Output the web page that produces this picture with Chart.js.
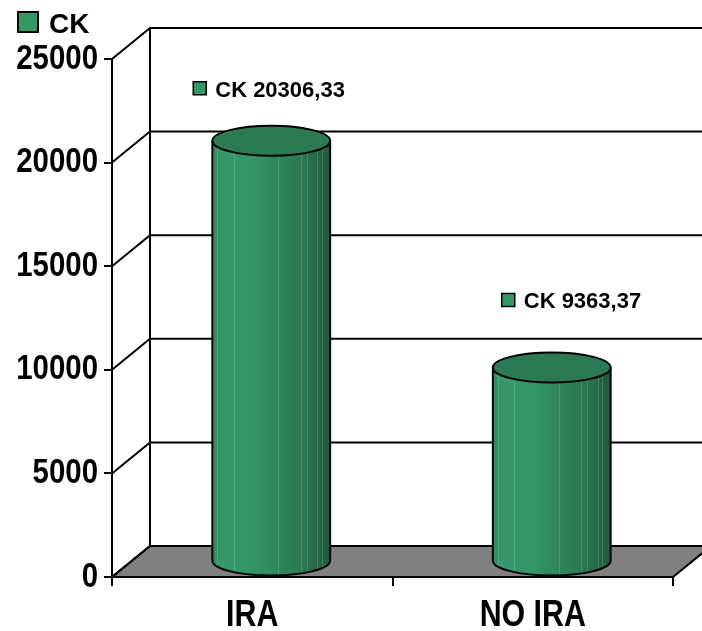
<!DOCTYPE html>
<html><head><meta charset="utf-8">
<script src="https://cdn.jsdelivr.net/npm/chart.js@4.4.0/dist/chart.umd.min.js"></script>
<style>html,body{margin:0;padding:0;background:#fff;} canvas{display:block;}</style>
</head><body>
<canvas id="c" width="702" height="631"></canvas>
<script>
// ---- data ----
const categories = ['IRA', 'NO IRA'];
const seriesName = 'CK';
const ckValues = [20306.33, 9363.37];
const valueLabels = ['20306,33', '9363,37'];
const yTicks = [0, 5000, 10000, 15000, 20000, 25000];

// ---- style ----
const DEPTH_X = 38, DEPTH_Y = -31, RY = 15;
const SANS = "'Liberation Sans', Arial, sans-serif";
const GREEN = '#339966';
const labelOffsets = [[-78, -44], [-50, -59]];
const LABEL_SQUEEZE = {x: 0.82, y: 0.84};   // condensed look of axis text

const plugin3d = {
  id: 'three-d',
  beforeDraw(chart) {
    Object.keys(LABEL_SQUEEZE).forEach(id => {
      const s = chart.scales[id];
      if (!s || s.__squeezed) return;
      s.__squeezed = true;
      const sx = LABEL_SQUEEZE[id];
      const orig = s.drawLabels;
      s.drawLabels = function (area) {
        const ctx = this.ctx;
        const of = CanvasRenderingContext2D.prototype.fillText;
        ctx.fillText = function (t, x, y, m) {
          this.save(); this.translate(x, y); this.scale(sx, 1);
          if (m === undefined) of.call(this, t, 0, 0); else of.call(this, t, 0, 0, m / sx);
          this.restore();
        };
        try { orig.call(this, area); } finally { delete ctx.fillText; }
      };
    });
  },
  beforeDatasetsDraw(chart) {
    const {ctx, chartArea: a, scales: {y}} = chart;
    const y0 = y.getPixelForValue(0);
    const yTop = y.getPixelForValue(yTicks[yTicks.length - 1]);
    ctx.save();
    ctx.lineWidth = 2; ctx.strokeStyle = '#000'; ctx.lineJoin = 'miter';
    // floor
    ctx.beginPath();
    ctx.moveTo(a.left, y0); ctx.lineTo(a.right, y0);
    ctx.lineTo(a.right + DEPTH_X, y0 + DEPTH_Y); ctx.lineTo(a.left + DEPTH_X, y0 + DEPTH_Y);
    ctx.closePath();
    ctx.fillStyle = '#808080'; ctx.fill(); ctx.stroke();
    // side wall & back wall grid lines
    yTicks.forEach(v => {
      const py = y.getPixelForValue(v);
      ctx.beginPath();
      ctx.moveTo(a.left, py); ctx.lineTo(a.left + DEPTH_X, py + DEPTH_Y);
      ctx.lineTo(a.right + DEPTH_X + 4, py + DEPTH_Y);
      ctx.stroke();
    });
    // back-wall left edge
    ctx.beginPath();
    ctx.moveTo(a.left + DEPTH_X, yTop + DEPTH_Y); ctx.lineTo(a.left + DEPTH_X, y0 + DEPTH_Y);
    ctx.stroke();
    // front vertical axis
    ctx.beginPath(); ctx.moveTo(a.left, yTop); ctx.lineTo(a.left, y0); ctx.stroke();
    ctx.restore();
  },
  afterDatasetsDraw(chart) {
    const {ctx} = chart;
    const meta = chart.getDatasetMeta(0);
    meta.data.forEach((el, i) => {
      const cx = el.x + DEPTH_X / 2, rx = el.width / 2;
      const topY = el.y + DEPTH_Y / 2, botY = el.base + DEPTH_Y / 2;
      ctx.save();
      // body
      ctx.beginPath();
      ctx.moveTo(cx - rx, topY);
      ctx.lineTo(cx - rx, botY);
      ctx.ellipse(cx, botY, rx, RY, 0, Math.PI, 0, true);
      ctx.lineTo(cx + rx, topY);
      ctx.closePath();
      const g = ctx.createLinearGradient(cx - rx, 0, cx + rx, 0);
      g.addColorStop(0, '#2e8c60'); g.addColorStop(0.08, '#35996b');
      g.addColorStop(0.35, '#339468'); g.addColorStop(0.6, '#2e8459');
      g.addColorStop(0.8, '#29744f'); g.addColorStop(1, '#1f5a3c');
      ctx.fillStyle = g; ctx.fill();
      ctx.save(); ctx.clip();
      ctx.strokeStyle = 'rgba(255,255,255,0.16)'; ctx.lineWidth = 1;
      [0.04, 0.18, 0.56, 0.75, 0.8, 0.89, 0.93].forEach(f => {
        const sx = Math.round(cx - rx + f * 2 * rx) + 0.5;
        ctx.beginPath(); ctx.moveTo(sx, topY); ctx.lineTo(sx, botY + RY); ctx.stroke();
      });
      ctx.restore();
      ctx.lineWidth = 2; ctx.strokeStyle = '#000';
      ctx.beginPath();
      ctx.moveTo(cx - rx, topY); ctx.lineTo(cx - rx, botY);
      ctx.ellipse(cx, botY, rx, RY, 0, Math.PI, 0, true);
      ctx.lineTo(cx + rx, topY);
      ctx.stroke();
      // top
      ctx.beginPath(); ctx.ellipse(cx, topY, rx, RY, 0, 0, Math.PI * 2);
      ctx.fillStyle = '#2b7a54'; ctx.fill(); ctx.stroke();
      // data label
      const [ox, oy] = labelOffsets[i];
      const lx = cx + ox, ly = topY + oy;
      ctx.fillStyle = GREEN; ctx.lineWidth = 1.5;
      ctx.fillRect(lx, ly - 15, 13, 13); ctx.strokeRect(lx, ly - 15, 13, 13);
      ctx.fillStyle = '#000'; ctx.font = 'bold 22px ' + SANS;
      ctx.textBaseline = 'alphabetic'; ctx.textAlign = 'left';
      ctx.fillText(seriesName + ' ' + valueLabels[i], lx + 22, ly);
      ctx.restore();
    });
    // legend
    ctx.save();
    ctx.fillStyle = GREEN; ctx.lineWidth = 2; ctx.strokeStyle = '#000';
    ctx.fillRect(18, 12, 20, 20); ctx.strokeRect(18, 12, 20, 20);
    ctx.fillStyle = '#000'; ctx.font = 'bold 28px ' + SANS;
    ctx.textBaseline = 'alphabetic'; ctx.textAlign = 'left';
    ctx.fillText(seriesName, 49, 33);
    ctx.restore();
  }
};

new Chart(document.getElementById('c'), {
  type: 'bar',
  data: {
    labels: categories,
    datasets: [{
      label: seriesName, data: ckValues,
      backgroundColor: 'rgba(0,0,0,0)', borderWidth: 0,
      barPercentage: 0.84, categoryPercentage: 0.5
    }]
  },
  options: {
    responsive: false, animation: false, devicePixelRatio: 1,
    layout: {padding: {top: 59, right: 29, left: 0, bottom: 0}},
    plugins: {legend: {display: false}, tooltip: {enabled: false}},
    scales: {
      x: {
        grid: {drawOnChartArea: false, drawTicks: true, tickLength: 9, color: '#000', lineWidth: 2, offset: true},
        border: {display: false},
        ticks: {font: {family: SANS, size: 37, weight: 'bold'}, color: '#000', padding: 8},
        afterFit(s) { s.height = 54; }
      },
      y: {
        min: 0, max: 25000,
        afterBuildTicks(s) { s.ticks = yTicks.map(v => ({value: v})); },
        ticks: {font: {family: SANS, size: 35, weight: 'bold'}, color: '#000', padding: 6, callback: v => String(v)},
        grid: {drawOnChartArea: false, tickLength: 8, color: '#000', lineWidth: 2},
        border: {display: false},
        afterFit(s) { s.width = 112; }
      }
    }
  },
  plugins: [plugin3d]
});
</script>
</body></html>
